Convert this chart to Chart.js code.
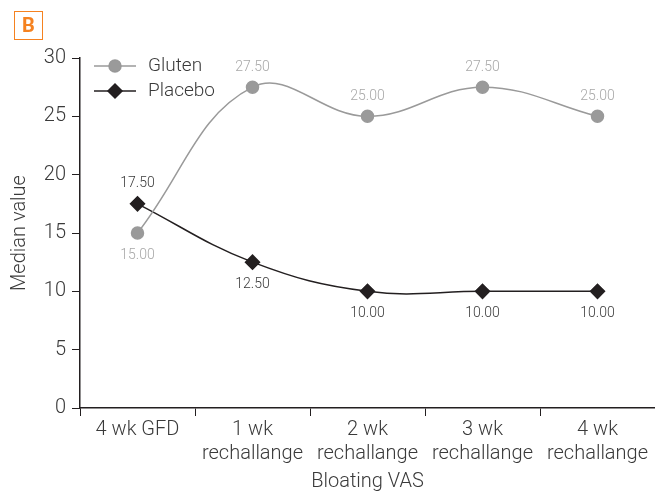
<!DOCTYPE html>
<html>
<head>
<meta charset="utf-8">
<script src="https://cdn.jsdelivr.net/npm/chart.js@4"></script>
<style>
  html, body { margin: 0; padding: 0; background: #fff; }
  #wrap { position: relative; width: 655px; height: 498px; }
  #tag {
    position: absolute; left: 14px; top: 11px; width: 27px; height: 27px;
    border: 1.5px solid #f58220; color: #f58220;
    font: 700 20px 'Roboto', sans-serif; text-align: center; line-height: 27px;
  }
</style>
</head>
<body>
<div id="wrap">
  <canvas id="myChart" width="655" height="498"></canvas>
  <div id="tag">B</div>
</div>
<script>
// Data grafik
const categories = ['4 wk GFD', ['1 wk', 'rechallange'], ['2 wk', 'rechallange'], ['3 wk', 'rechallange'], ['4 wk', 'rechallange']];
const glutenValues = [15.0, 27.5, 25.0, 27.5, 25.0];
const placeboValues = [17.5, 12.5, 10.0, 10.0, 10.0];
const glutenLabelPos = ['below', 'above', 'above', 'above', 'above'];
const placeboLabelPos = ['above', 'below', 'below', 'below', 'below'];
const yTicks = [0, 5, 10, 15, 20, 25, 30];

const fontFam = "'Roboto', 'Liberation Sans', sans-serif";
const grey = '#9a9a9a';
const dark = '#231f20';
const textCol = '#3a3a3a';

// label angka di atas/bawah titik
const valueLabels = {
  id: 'valueLabels',
  afterDatasetsDraw(chart) {
    const ctx = chart.ctx;
    ctx.save();
    ctx.font = '300 14px ' + fontFam;
    ctx.textAlign = 'center';
    ctx.textBaseline = 'middle';
    chart.data.datasets.forEach((ds, i) => {
      const meta = chart.getDatasetMeta(i);
      ctx.fillStyle = ds.labelColor;
      meta.data.forEach((pt, j) => {
        const v = ds.data[j];
        const dy = ds.labelPos[j] === 'above' ? -20 : 22;
        ctx.fillText(v.toFixed(2), pt.x, pt.y + dy);
      });
    });
    ctx.restore();
  }
};

// legenda di dalam area grafik
const innerLegend = {
  id: 'innerLegend',
  afterDraw(chart) {
    const ctx = chart.ctx;
    ctx.save();
    chart.data.datasets.forEach((ds, i) => {
      const y = 66 + i * 25;
      ctx.strokeStyle = ds.borderColor;
      ctx.lineWidth = 1.5;
      ctx.beginPath();
      ctx.moveTo(94, y);
      ctx.lineTo(136, y);
      ctx.stroke();
      Chart.helpers.drawPoint(ctx, {
        pointStyle: ds.pointStyle, radius: ds.pointRadius, borderWidth: 1
      }, 115, y);
      ctx.fillStyle = ds.borderColor;
      ctx.fill();
      ctx.fillStyle = textCol;
      ctx.font = '300 19px ' + fontFam;
      ctx.textAlign = 'left';
      ctx.textBaseline = 'middle';
      ctx.fillText(ds.label, 148, y);
    });
    ctx.restore();
  }
};

const ctx = document.getElementById('myChart').getContext('2d');
const myChart = new Chart(ctx, {
  type: 'line',
  data: {
    labels: categories,
    datasets: [{
      label: 'Gluten',
      data: glutenValues,
      borderColor: grey,
      backgroundColor: grey,
      pointBackgroundColor: grey,
      pointBorderColor: grey,
      borderWidth: 1.5,
      pointStyle: 'circle',
      pointRadius: 6,
      tension: 0.4,
      labelColor: '#a8a8a8',
      labelPos: glutenLabelPos
    }, {
      label: 'Placebo',
      data: placeboValues,
      borderColor: dark,
      backgroundColor: dark,
      pointBackgroundColor: dark,
      pointBorderColor: dark,
      borderWidth: 1.5,
      pointStyle: 'rectRot',
      pointRadius: 7,
      tension: 0.4,
      labelColor: textCol,
      labelPos: placeboLabelPos
    }]
  },
  options: {
    responsive: false,
    animation: false,
    layout: { autoPadding: false, padding: { top: 58, right: 0, left: 0, bottom: 0 } },
    plugins: {
      legend: { display: false },
      tooltip: { enabled: false }
    },
    scales: {
      x: {
        offset: true,
        grid: { display: true, drawOnChartArea: false, drawTicks: true, tickLength: 8, color: dark, offset: true },
        border: { display: true, color: dark, width: 1.5 },
        ticks: { color: textCol, font: { family: fontFam, size: 20, weight: '300', lineHeight: 1.2 }, padding: 2, maxRotation: 0, autoSkip: false },
        title: { display: true, text: 'Bloating VAS', color: textCol, font: { family: fontFam, size: 20, weight: '300', lineHeight: 1.2 }, padding: { top: 0, bottom: 4 } },
        afterFit(s) { s.height = 90; s.paddingLeft = 0; s.paddingRight = 0; }
      },
      y: {
        min: 0, max: 30,
        afterBuildTicks(s) { s.ticks = yTicks.map(v => ({ value: v })); },
        grid: { display: true, drawOnChartArea: false, drawTicks: true, tickLength: 8, color: dark },
        border: { display: true, color: dark, width: 1.5 },
        ticks: { color: textCol, font: { family: fontFam, size: 20, weight: '300' }, padding: 6 },
        title: { display: true, text: 'Median value', color: textCol, font: { family: fontFam, size: 20, weight: '300', lineHeight: 1.2 }, padding: { top: 8, bottom: 0 } },
        afterFit(s) { s.width = 80; }
      }
    }
  },
  plugins: [valueLabels, innerLegend]
});

myChart.update();
</script>
</body>
</html>
